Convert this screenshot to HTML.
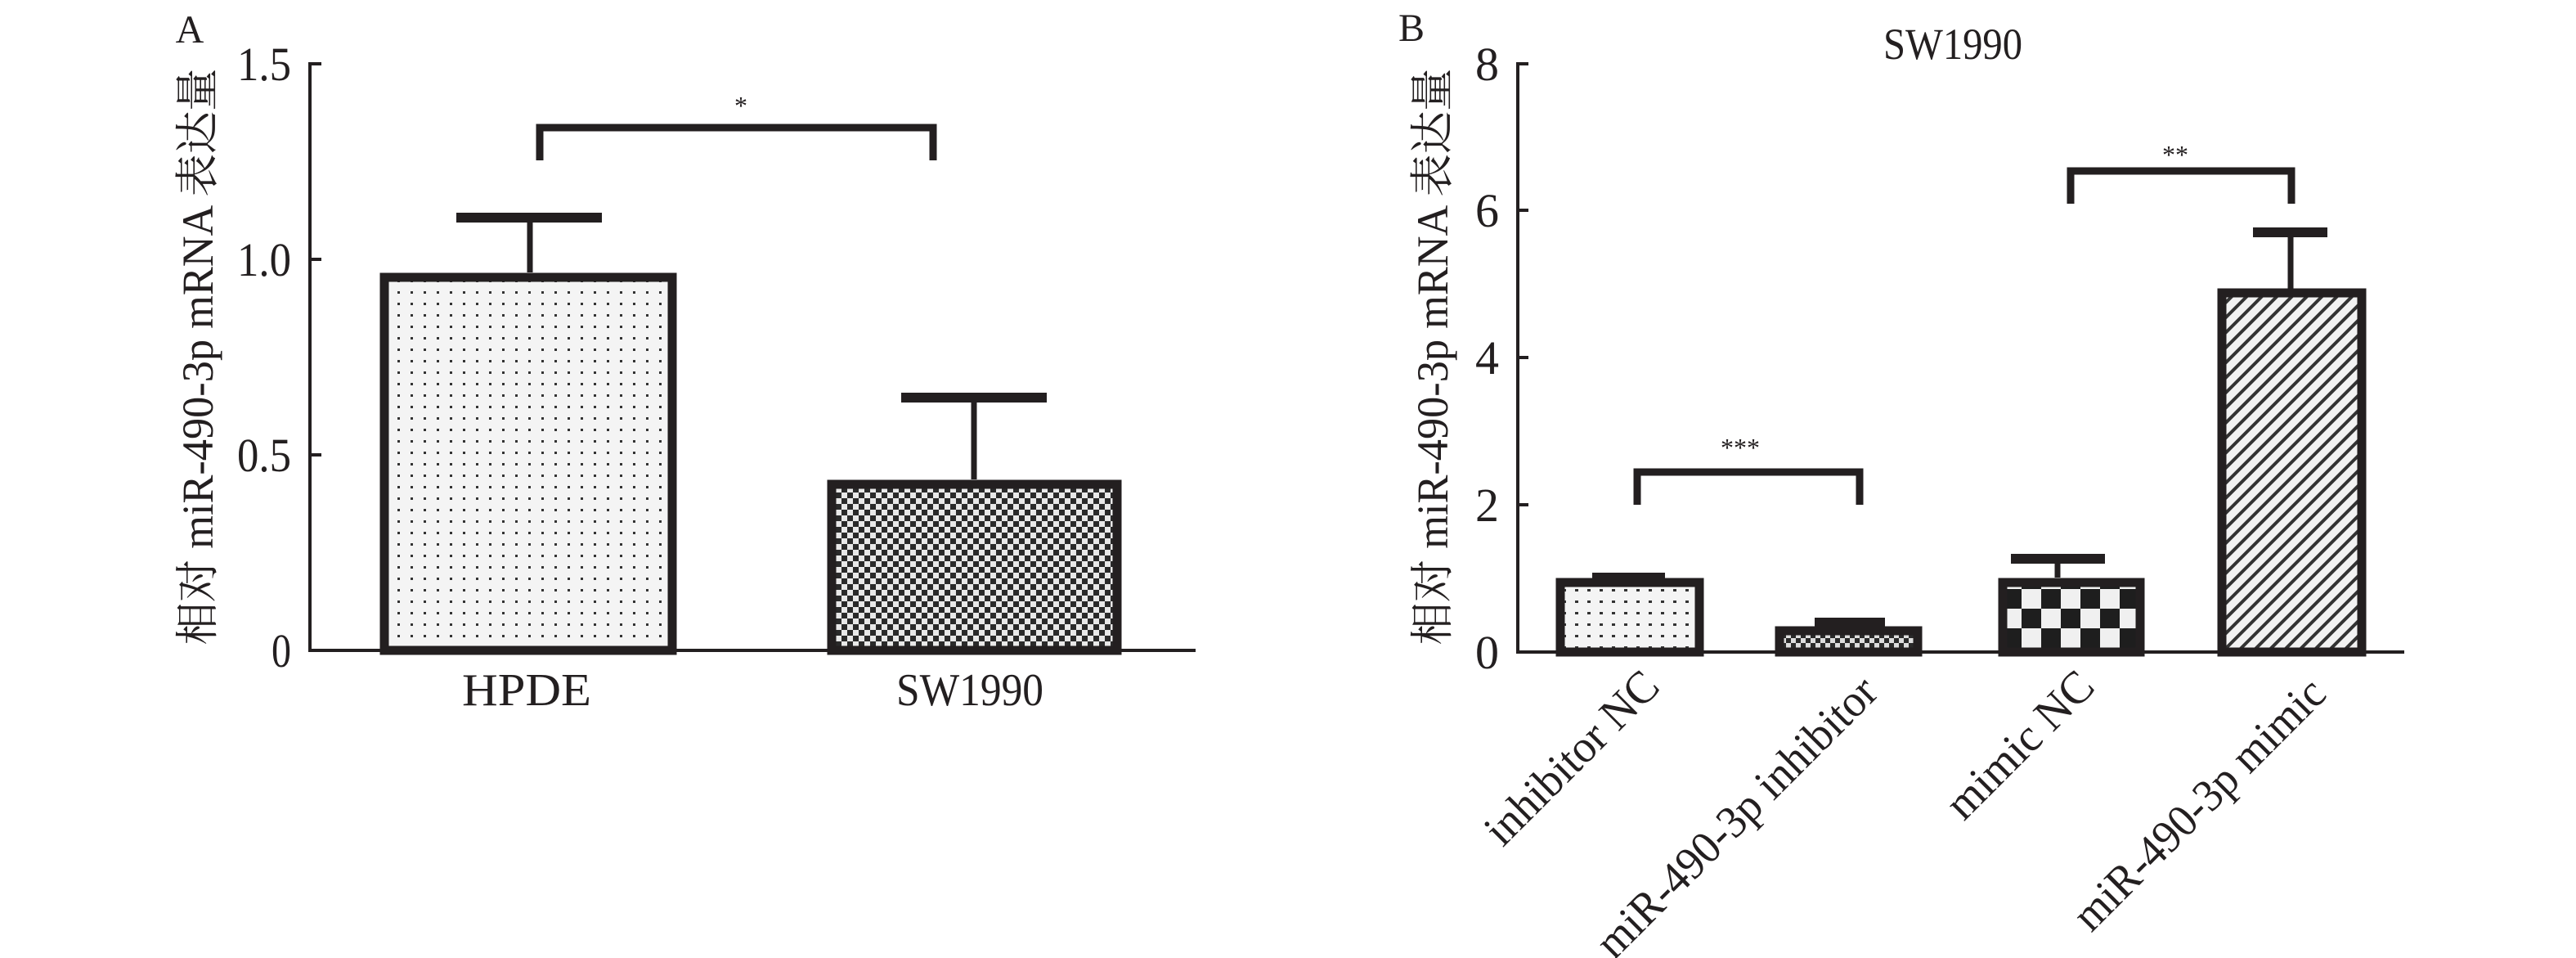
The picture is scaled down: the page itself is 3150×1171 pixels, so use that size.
<!DOCTYPE html>
<html><head><meta charset="utf-8"><style>html,body{margin:0;padding:0;background:#fff}svg{display:block}</style></head><body>
<svg width="3150" height="1171" viewBox="0 0 3150 1171" xmlns="http://www.w3.org/2000/svg" font-family="'Liberation Serif','Noto Serif CJK SC',serif" fill="#231f20">
<defs>
<pattern id="dots" width="16" height="14" patternUnits="userSpaceOnUse"><rect width="16" height="14" fill="#f4f4f4"/><rect x="6" y="6" width="3" height="3" fill="#333"/></pattern>
<pattern id="dotsB" width="15" height="14" patternUnits="userSpaceOnUse"><rect width="15" height="14" fill="#f4f4f4"/><rect x="6" y="6" width="4" height="3" fill="#333"/></pattern>
<pattern id="chk" width="14" height="14" patternUnits="userSpaceOnUse"><rect width="14" height="14" fill="#e8e8e8"/><rect width="7" height="7" fill="#2a2a2a"/><rect x="7" y="7" width="7" height="7" fill="#2a2a2a"/></pattern>
<pattern id="chkS" width="12" height="12" patternUnits="userSpaceOnUse"><rect width="12" height="12" fill="#ddd"/><rect width="6" height="6" fill="#2a2a2a"/><rect x="6" y="6" width="6" height="6" fill="#2a2a2a"/></pattern>
<pattern id="chkL" width="48" height="48" patternUnits="userSpaceOnUse"><rect width="48" height="48" fill="#f0f0f0"/><rect width="24" height="24" fill="#1e1e1e"/><rect x="24" y="24" width="24" height="24" fill="#1e1e1e"/></pattern>
<pattern id="hatch" width="13" height="13" patternUnits="userSpaceOnUse" patternTransform="rotate(45)"><rect width="13" height="13" fill="#f2f2f2"/><rect x="0" y="0" width="4" height="13" fill="#333"/></pattern>
</defs>

<!-- Panel A -->
<text x="232" y="52" font-size="48" text-anchor="middle">A</text>
<g stroke="#231f20" stroke-width="4" fill="none">
<line x1="379" y1="76" x2="379" y2="797"/>
<line x1="377" y1="795" x2="1462" y2="795"/>
<line x1="379" y1="78" x2="393" y2="78"/>
<line x1="379" y1="317" x2="393" y2="317"/>
<line x1="379" y1="556" x2="393" y2="556"/>
</g>
<g font-size="58" text-anchor="end">
<text x="356" y="98" textLength="66" lengthAdjust="spacingAndGlyphs">1.5</text>
<text x="356" y="337" textLength="66" lengthAdjust="spacingAndGlyphs">1.0</text>
<text x="356" y="576" textLength="66" lengthAdjust="spacingAndGlyphs">0.5</text>
<text x="356" y="815" textLength="24" lengthAdjust="spacingAndGlyphs">0</text>
</g>
<text transform="translate(260,436) rotate(-90)" font-size="54" text-anchor="middle" textLength="705" lengthAdjust="spacingAndGlyphs">相对 miR-490-3p mRNA 表达量</text>
<!-- HPDE -->
<rect x="470" y="339" width="352" height="456" fill="url(#dots)" stroke="#231f20" stroke-width="11"/>
<line x1="648" y1="333" x2="648" y2="266" stroke="#231f20" stroke-width="7"/>
<line x1="558" y1="266" x2="736" y2="266" stroke="#231f20" stroke-width="12"/>
<!-- SW1990 -->
<rect x="1017" y="592" width="349" height="203" fill="url(#chk)" stroke="#231f20" stroke-width="11"/>
<line x1="1191" y1="586" x2="1191" y2="486" stroke="#231f20" stroke-width="7"/>
<line x1="1102" y1="486" x2="1280" y2="486" stroke="#231f20" stroke-width="12"/>
<polyline points="660,196 660,156 1141,156 1141,196" fill="none" stroke="#231f20" stroke-width="9"/>
<text x="906" y="140" font-size="32" text-anchor="middle">*</text>
<text x="644" y="862" font-size="56" text-anchor="middle" textLength="158" lengthAdjust="spacingAndGlyphs">HPDE</text>
<text x="1186" y="862" font-size="56" text-anchor="middle" textLength="180" lengthAdjust="spacingAndGlyphs">SW1990</text>

<!-- Panel B -->
<text x="1726" y="50" font-size="48" text-anchor="middle">B</text>
<text x="2388" y="72" font-size="54" text-anchor="middle" textLength="170" lengthAdjust="spacingAndGlyphs">SW1990</text>
<g stroke="#231f20" stroke-width="4" fill="none">
<line x1="1856" y1="76" x2="1856" y2="799"/>
<line x1="1854" y1="797" x2="2940" y2="797"/>
<line x1="1856" y1="78" x2="1869" y2="78"/>
<line x1="1856" y1="257" x2="1869" y2="257"/>
<line x1="1856" y1="437" x2="1869" y2="437"/>
<line x1="1856" y1="617" x2="1869" y2="617"/>
</g>
<g font-size="58" text-anchor="end">
<text x="1833" y="98">8</text>
<text x="1833" y="277">6</text>
<text x="1833" y="457">4</text>
<text x="1833" y="637">2</text>
<text x="1833" y="817">0</text>
</g>
<text transform="translate(1770,436) rotate(-90)" font-size="54" text-anchor="middle" textLength="705" lengthAdjust="spacingAndGlyphs">相对 miR-490-3p mRNA 表达量</text>
<!-- bar1 -->
<rect x="1908" y="712" width="170" height="85" fill="url(#dotsB)" stroke="#231f20" stroke-width="11"/>
<rect x="1947" y="700" width="89" height="12" fill="#231f20"/>
<!-- bar2 -->
<rect x="2176" y="771" width="169" height="26" fill="url(#chkS)" stroke="#231f20" stroke-width="11"/>
<rect x="2219" y="755" width="86" height="16" fill="#231f20"/>
<!-- bar3 -->
<rect x="2449" y="712" width="168" height="85" fill="url(#chkL)" stroke="#231f20" stroke-width="11"/>
<line x1="2516" y1="706" x2="2516" y2="683" stroke="#231f20" stroke-width="7"/>
<line x1="2459" y1="683" x2="2574" y2="683" stroke="#231f20" stroke-width="12"/>
<!-- bar4 -->
<rect x="2717" y="358" width="171" height="439" fill="url(#hatch)" stroke="#231f20" stroke-width="11"/>
<line x1="2801" y1="353" x2="2801" y2="284" stroke="#231f20" stroke-width="7"/>
<line x1="2755" y1="284" x2="2846" y2="284" stroke="#231f20" stroke-width="12"/>
<polyline points="2002,617 2002,577 2274,577 2274,617" fill="none" stroke="#231f20" stroke-width="9"/>
<polyline points="2532,249 2532,209 2802,209 2802,249" fill="none" stroke="#231f20" stroke-width="9"/>
<text x="2128" y="558" font-size="32" text-anchor="middle">***</text>
<text x="2660" y="200" font-size="32" text-anchor="middle">**</text>
<g font-size="56" text-anchor="end">
<text transform="translate(2032,842) rotate(-45)" textLength="275" lengthAdjust="spacingAndGlyphs">inhibitor NC</text>
<text transform="translate(2299,849) rotate(-45)" textLength="460" lengthAdjust="spacingAndGlyphs">miR-490-3p inhibitor</text>
<text transform="translate(2564,842) rotate(-45)" textLength="230" lengthAdjust="spacingAndGlyphs">mimic NC</text>
<text transform="translate(2847,851) rotate(-45)" textLength="410" lengthAdjust="spacingAndGlyphs">miR-490-3p mimic</text>
</g>
</svg>
</body></html>
